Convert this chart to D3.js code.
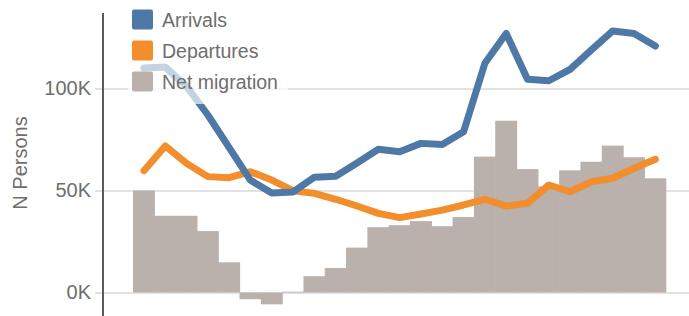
<!DOCTYPE html>
<html>
<head>
<meta charset="utf-8">
<script src="https://cdn.jsdelivr.net/npm/d3@7/dist/d3.min.js"></script>
<style>
  html, body { margin: 0; padding: 0; background: #fff; }
  svg { display: block; font-family: "Liberation Sans", Arial, sans-serif; }
</style>
</head>
<body>
<svg id="chart" width="689" height="316"></svg>
<script>
// ---- data (values in persons) ----
const periods = d3.range(1, 26).map(String); // 25 consecutive periods
const arrivals = [110000, 110500, 101000, 87000, 71000, 55000, 48800, 49300, 56500, 57000, 63500, 70200, 69000, 73100, 72600, 78800, 112400, 127000, 104500, 103800, 109400, 118900, 128200, 127000, 120800];
const departures = [59700, 71800, 63300, 56800, 56300, 59200, 55100, 49900, 48600, 45700, 42400, 38800, 36700, 38500, 40400, 42900, 45700, 42400, 43700, 52700, 49400, 54300, 56000, 60900, 65300];
const netMigration = [50000, 37600, 37600, 30100, 14800, -3300, -5800, 400, 8000, 12000, 22000, 32000, 33000, 35000, 32500, 37000, 66600, 84200, 60500, 52000, 59900, 64100, 72000, 66300, 56000];
const tickValues = [0, 50000, 100000];
const tickLabels = ["0K", "50K", "100K"];
const seriesNames = ["Arrivals", "Departures", "Net migration"];
const seriesColors = ["#4e79a7", "#f28e2b", "#bab0ac"];

const svg = d3.select("#chart");
const W = 689, H = 316;

const x = d3.scaleBand().domain(periods).range([133.3, 666]).padding(0);
const y = d3.scaleLinear().domain([0, 100000]).range([292.5, 88.5]);

// gridlines + tick labels
const axis = d3.axisLeft(y)
  .tickValues(tickValues)
  .tickFormat((d, i) => tickLabels[i])
  .tickSize(-(W - 95))
  .tickPadding(4);
const gAxis = svg.append("g").attr("transform", "translate(95,0)").call(axis);
gAxis.select(".domain").remove();
gAxis.selectAll(".tick line").attr("stroke", "#d9d9d9").attr("stroke-width", 1.5);
gAxis.selectAll(".tick text")
  .attr("fill", "#6e6e6e")
  .style("font-size", "20px")
  .style("font-family", "'Liberation Sans', Arial, sans-serif");

// bars (net migration), slightly overlapped so there are no seams
svg.append("g").selectAll("rect").data(netMigration).join("rect")
  .attr("x", (d, i) => x(periods[i]) - 0.3)
  .attr("width", x.bandwidth() + 0.6)
  .attr("y", d => Math.min(y(d), y(0)))
  .attr("height", d => Math.abs(y(d) - y(0)))
  .attr("fill", seriesColors[2]);

// lines
const line = d3.line()
  .x((d, i) => x(periods[i]) + x.bandwidth() / 2)
  .y(d => y(d));

svg.append("path").datum(departures)
  .attr("d", line)
  .attr("fill", "none")
  .attr("stroke", seriesColors[1])
  .attr("stroke-width", 7)
  .attr("stroke-linejoin", "round")
  .attr("stroke-linecap", "round");

svg.append("path").datum(arrivals)
  .attr("d", line)
  .attr("fill", "none")
  .attr("stroke", seriesColors[0])
  .attr("stroke-width", 7)
  .attr("stroke-linejoin", "round")
  .attr("stroke-linecap", "round");

// vertical axis line
svg.append("line")
  .attr("x1", 103).attr("x2", 103)
  .attr("y1", 13).attr("y2", H)
  .attr("stroke", "#5a5a5a").attr("stroke-width", 2);

// y axis title
svg.append("text")
  .attr("transform", "translate(20,163) rotate(-90)")
  .attr("text-anchor", "middle")
  .attr("dominant-baseline", "central")
  .attr("fill", "#6e6e6e")
  .style("font-size", "20px")
  .text("N Persons");

// legend with translucent background
const legend = svg.append("g");
legend.append("rect")
  .attr("x", 128).attr("y", 4).attr("width", 160).attr("height", 100)
  .attr("fill", "#fff").attr("fill-opacity", 0.67);
const items = legend.selectAll("g.item").data(seriesNames).join("g")
  .attr("class", "item")
  .attr("transform", (d, i) => `translate(132,${9.5 + i * 31})`);
items.append("rect")
  .attr("width", 21).attr("height", 20).attr("rx", 2)
  .attr("fill", (d, i) => seriesColors[i]);
items.append("text")
  .attr("x", 30).attr("y", 10.5)
  .attr("dominant-baseline", "central")
  .attr("fill", "#6e6e6e")
  .style("font-size", "19.5px")
  .text(d => d);
</script>
</body>
</html>
